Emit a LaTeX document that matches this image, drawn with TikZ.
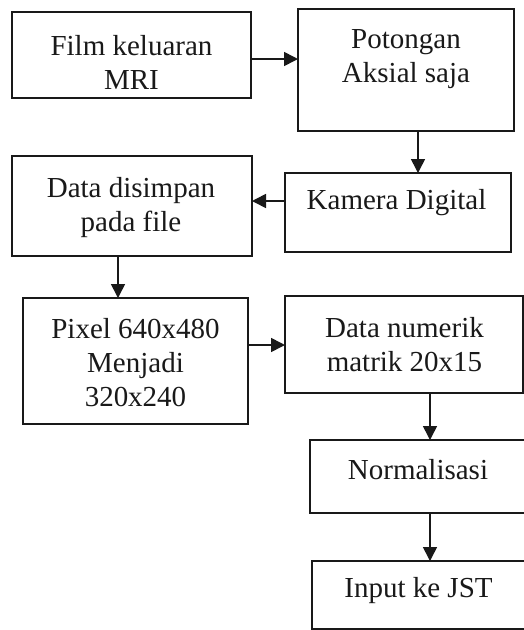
\documentclass[tikz,border=0pt]{standalone}
\usepackage{fontspec}
\setmainfont{Liberation Serif}
\usetikzlibrary{arrows.meta}
\tikzset{
  box/.style={draw=black!90, line width=1.8pt, rectangle, inner sep=0pt, outer sep=0pt},
  lbl/.style={align=center, inner sep=0pt, font=\fontsize{29}{34}\selectfont, text=black!90},
  arr/.style={draw=black!90, line width=1.6pt, -{Triangle[length=14pt,width=14pt]}}
}
\begin{document}
\begin{tikzpicture}[x=1pt,y=-1pt]
\useasboundingbox (0,0) rectangle (524,630);
\fill[white] (0,0) rectangle (524,630);
\clip (0,0) rectangle (524,630);
% boxes
\node[box, minimum width=239pt, minimum height=86pt]  (b1) at (131.5,55) {};
\node[box, minimum width=216pt, minimum height=122pt] (b2) at (406,70) {};
\node[box, minimum width=226pt, minimum height=79pt]  (b3) at (398,212.5) {};
\node[box, minimum width=240pt, minimum height=100pt] (b4) at (132,206) {};
\node[box, minimum width=225pt, minimum height=126pt] (b5) at (135.5,361) {};
\node[box, minimum width=238pt, minimum height=97pt]  (b6) at (404,344.5) {};
\node[box, minimum width=235pt, minimum height=73pt]  (b7) at (427.5,476.5) {};
\node[box, minimum width=233pt, minimum height=68pt]  (b8) at (428.5,595) {};
% texts
\node[lbl] (t1) at (131.5,62) {Film keluaran\\MRI};
\node[lbl] (t2) at (406,59) {Potongan\\Aksial saja};
\node[lbl] (t3) at (396.5,203) {Kamera Digital};
\node[lbl] (t4) at (131,208) {Data disimpan\\pada file};
\node[lbl] (t5) at (135.5,363) {Pixel 640x480\\Menjadi\\320x240};
\node[lbl] (t6) at (404.5,345) {Data numerik\\matrik 20x15};
\node[lbl] (t7) at (418,470) {Normalisasi};
\node[lbl] (t8) at (418.5,591) {Input ke JST};
% connectors
\coordinate (y1) at (0,59);
\coordinate (x2) at (418,0);
\coordinate (y3) at (0,201);
\coordinate (x4) at (118,0);
\coordinate (y5) at (0,345);
\coordinate (x6) at (430,0);
\draw[arr] (b1.east |- y1) -- (b2.west |- y1);
\draw[arr] (b2.south -| x2) -- (b3.north -| x2);
\draw[arr] (b3.west |- y3) -- (b4.east |- y3);
\draw[arr] (b4.south -| x4) -- (b5.north -| x4);
\draw[arr] (b5.east |- y5) -- (b6.west |- y5);
\draw[arr] (b6.south -| x6) -- (b7.north -| x6);
\draw[arr] (b7.south -| x6) -- (b8.north -| x6);
\end{tikzpicture}
\end{document}
